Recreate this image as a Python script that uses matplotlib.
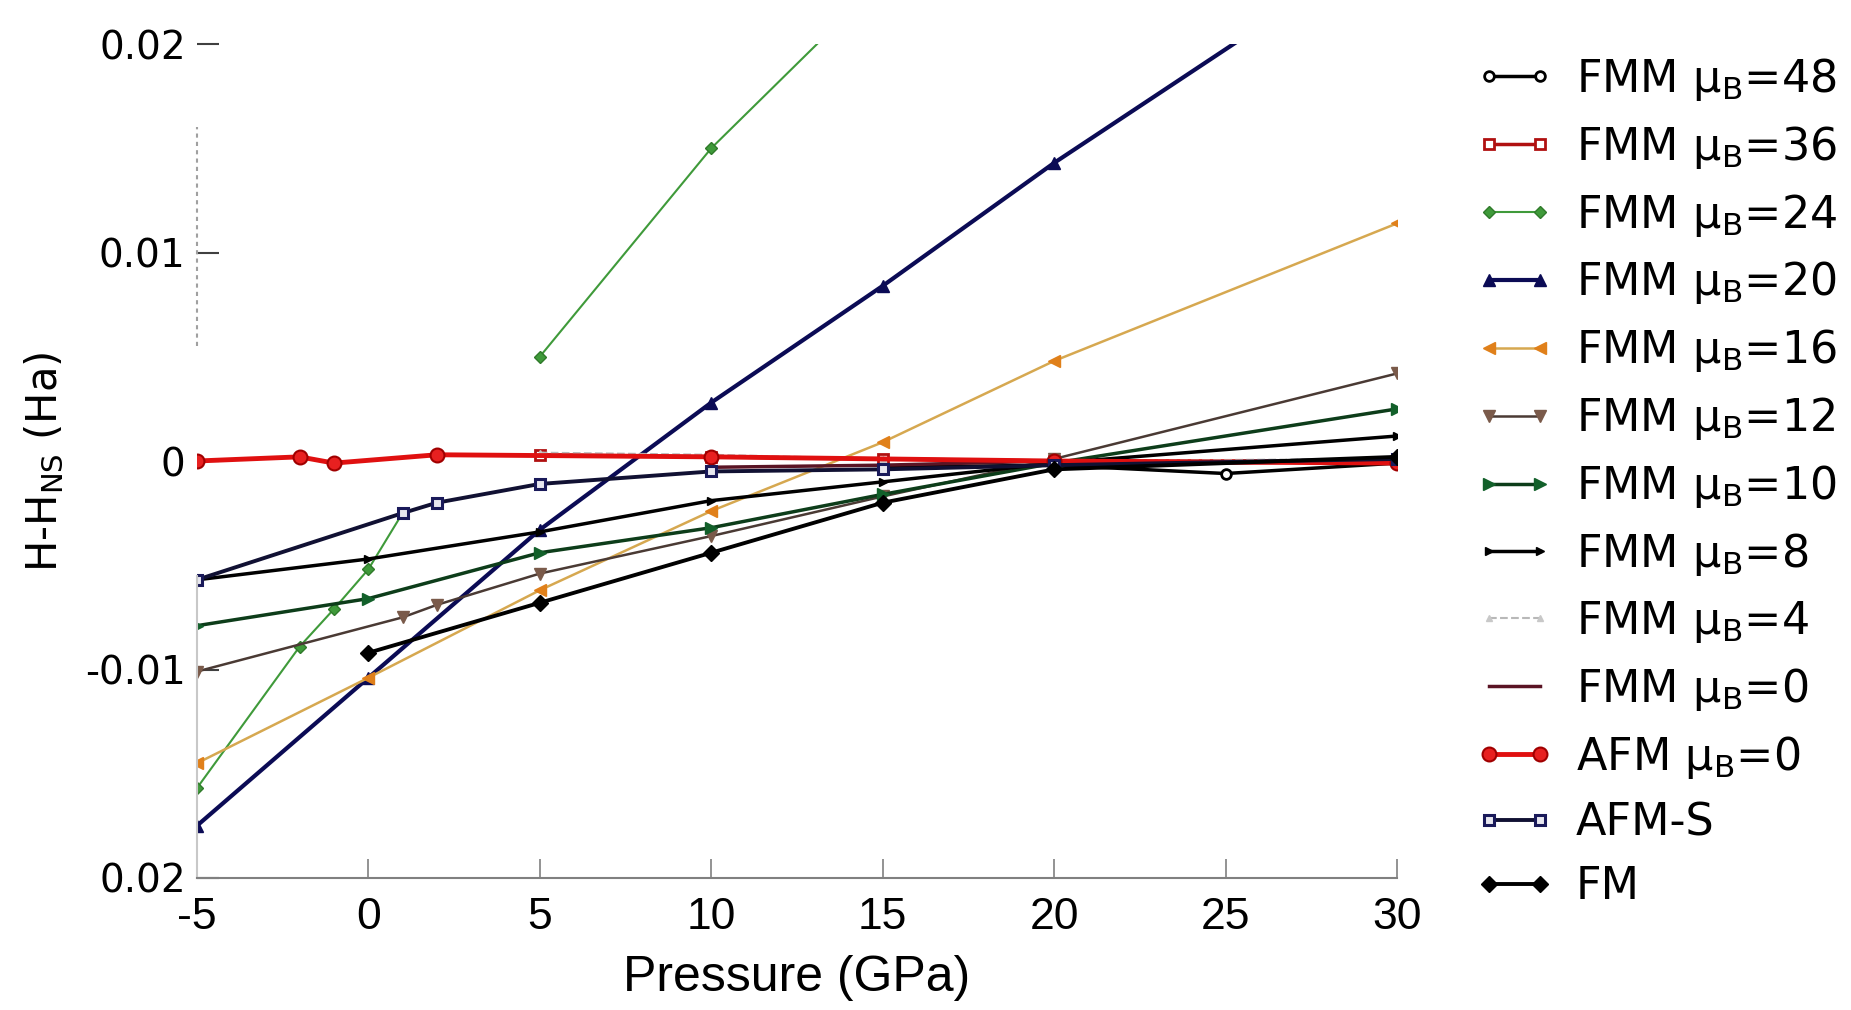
import numpy as np
import matplotlib
matplotlib.use("Agg")
import matplotlib.pyplot as plt

# ── data (pressure in GPa, H-H_NS in Ha) ──
p_fmm48 = [15, 20, 25, 30]
h_fmm48 = [-0.0003, -0.0002, -0.0006, -0.0001]

p_fmm36 = [5, 10, 15, 20, 30]
h_fmm36 = [0.0003, 0.0002, 0.0001, 0.0, 0.0]

p_fmm24_low = [-5, -2, -1, 0, 1]
h_fmm24_low = [-0.0157, -0.0089, -0.0071, -0.0052, -0.0025]
p_fmm24_high = [5, 10, 15]
h_fmm24_high = [0.0050, 0.0150, 0.0231]

p_fmm20 = [-5, 0, 5, 10, 15, 20, 30]
h_fmm20 = [-0.0175, -0.0104, -0.0033, 0.0028, 0.0084, 0.0143, 0.0252]

p_fmm16 = [-5, 0, 5, 10, 15, 20, 30]
h_fmm16 = [-0.0145, -0.0104, -0.0062, -0.0024, 0.0009, 0.0048, 0.0114]

p_fmm12 = [-5, 1, 2, 5, 10, 15, 20, 30]
h_fmm12 = [-0.0101, -0.0075, -0.0069, -0.0054, -0.0036, -0.0017, 0.0001, 0.0042]

p_fmm10 = [-5, 0, 5, 10, 15, 20, 30]
h_fmm10 = [-0.0079, -0.0066, -0.0044, -0.0032, -0.0016, -0.0001, 0.0025]

p_fmm8 = [-5, 0, 5, 10, 15, 20, 30]
h_fmm8 = [-0.0057, -0.0047, -0.0034, -0.0019, -0.0010, -0.0001, 0.0012]

p_fmm4 = [5, 10, 15, 20, 30]
h_fmm4 = [0.0004, 0.0003, 0.0001, 0.0, 0.0001]

p_fmm0 = [10, 15, 20, 25, 30]
h_fmm0 = [-0.0003, -0.0002, 0.0, -0.0001, 0.0]

p_afm0 = [-5, -2, -1, 2, 10, 20, 30]
h_afm0 = [0.0, 0.0002, -0.0001, 0.0003, 0.0002, 0.0, -0.0001]

p_afms = [-5, 1, 2, 5, 10, 15, 20, 30]
h_afms = [-0.0057, -0.0025, -0.0020, -0.0011, -0.0005, -0.0004, -0.0002, 0.0001]

p_fm = [0, 5, 10, 15, 20, 30]
h_fm = [-0.0092, -0.0068, -0.0044, -0.0020, -0.0004, 0.0002]

x_ticks = [-5, 0, 5, 10, 15, 20, 25, 30]
y_ticks = [-0.02, -0.01, 0.0, 0.01, 0.02]
y_tick_labels = ["0.02", "-0.01", "0", "0.01", "0.02"]

MU = "\u00b5$_\\mathrm{B}$"

plt.rcParams["mathtext.fontset"] = "dejavusans"
plt.rcParams["axes.unicode_minus"] = False

fig = plt.figure(figsize=(18.51, 10.10), dpi=100)
ax = fig.add_axes([0.1063, 0.1307, 0.6485, 0.8257])

handles = []

def line(p, h, label, **kw):
    ln, = ax.plot(p, h, label=label, **kw)
    if label is not None:
        handles.append(ln)
    return ln

line(p_fmm48, h_fmm48, "FMM " + MU + "=48", color="black", lw=2.5,
     marker="o", ms=7, mfc="white", mec="black", mew=2)
line(p_fmm36, h_fmm36, "FMM " + MU + "=36", color="#b01010", lw=2.5,
     marker="s", ms=7, mfc="white", mec="#b01010", mew=2)
g24 = dict(color="#3f9a3a", lw=1.5, marker="D", ms=6, mfc="#3f9a3a", mec="#2f7a2a")
line(p_fmm24_low, h_fmm24_low, "FMM " + MU + "=24", **g24)
line(p_fmm24_high, h_fmm24_high, None, **g24)
line(p_fmm20, h_fmm20, "FMM " + MU + "=20", color="#0b0b55", lw=3,
     marker="^", ms=9, mfc="#0b0b55", mec="#0b0b55")
line(p_fmm16, h_fmm16, "FMM " + MU + "=16", color="#d6a850", lw=1.8,
     marker="<", ms=9, mfc="#e0801a", mec="#e0801a")
line(p_fmm12, h_fmm12, "FMM " + MU + "=12", color="#4a3a34", lw=1.8,
     marker="v", ms=9, mfc="#7a5a4a", mec="#7a5a4a")
line(p_fmm10, h_fmm10, "FMM " + MU + "=10", color="#0d3d1a", lw=2.5,
     marker=">", ms=9, mfc="#12602a", mec="#12602a")
line(p_fmm8, h_fmm8, "FMM " + MU + "=8", color="black", lw=2.5,
     marker=">", ms=6, mfc="black", mec="black")
line(p_fmm4, h_fmm4, "FMM " + MU + "=4", color="#b8b8b8", lw=1.5, ls="--",
     marker="^", ms=5, mfc="#c8c8c8", mec="#c8c8c8")
line(p_fmm0, h_fmm0, "FMM " + MU + "=0", color="#5a1424", lw=2.5)
line(p_afm0, h_afm0, "AFM " + MU + "=0", color="#e01010", lw=3.5,
     marker="o", ms=10, mfc="#e82020", mec="#a00000", mew=1.5)
line(p_afms, h_afms, "AFM-S", color="#111133", lw=2.8,
     marker="s", ms=7, mfc="#e8e8f0", mec="#1a1a5a", mew=2.2)
line(p_fm, h_fm, "FM", color="black", lw=2.8,
     marker="D", ms=8, mfc="black", mec="black")

ax.set_xlim(-5, 30)
ax.set_ylim(-0.02, 0.02)

# axes frame: only a grey bottom line and a broken left line
for side in ("top", "right", "left"):
    ax.spines[side].set_visible(False)
ax.spines["bottom"].set_color("#808080")
ax.spines["bottom"].set_linewidth(1.5)
ytr = ax.get_yaxis_transform()
ax.plot([0, 0], [0.0055, 0.016], transform=ytr, color="#a0a0a0", lw=1.5,
        ls=(0, (2, 2)), clip_on=False)
ax.plot([0, 0], [-0.02, -0.0055], transform=ytr, color="#c8c8c8", lw=1.5,
        clip_on=False)

ax.set_xticks(x_ticks)
ax.set_yticks(y_ticks)
ax.set_yticklabels(y_tick_labels)
ax.tick_params(axis="x", direction="in", length=14, width=1.2, color="#808080",
               pad=14, labelsize=32)
ax.tick_params(axis="y", direction="in", length=16, width=1.5, color="#404040",
               pad=8, labelsize=28)
for t in ax.get_xticklabels():
    t.set_family("Liberation Sans")

ax.set_xlabel("Pressure (GPa)", fontsize=36, labelpad=12, family="Liberation Sans")
fig.text(44 / 1851, 1 - 462 / 1010, r"H-H$_\mathrm{NS}$ (Ha)", rotation=90,
         ha="center", va="center", fontsize=30)

fig.legend(handles=handles, loc="upper left",
           bbox_to_anchor=(1458 / 1851, 1 - 38 / 1010),
           frameon=False, fontsize=32, handlelength=1.75, handletextpad=0.5,
           labelspacing=0.47, borderaxespad=0, numpoints=2)

fig.savefig("out.png", dpi=100, facecolor="white")
